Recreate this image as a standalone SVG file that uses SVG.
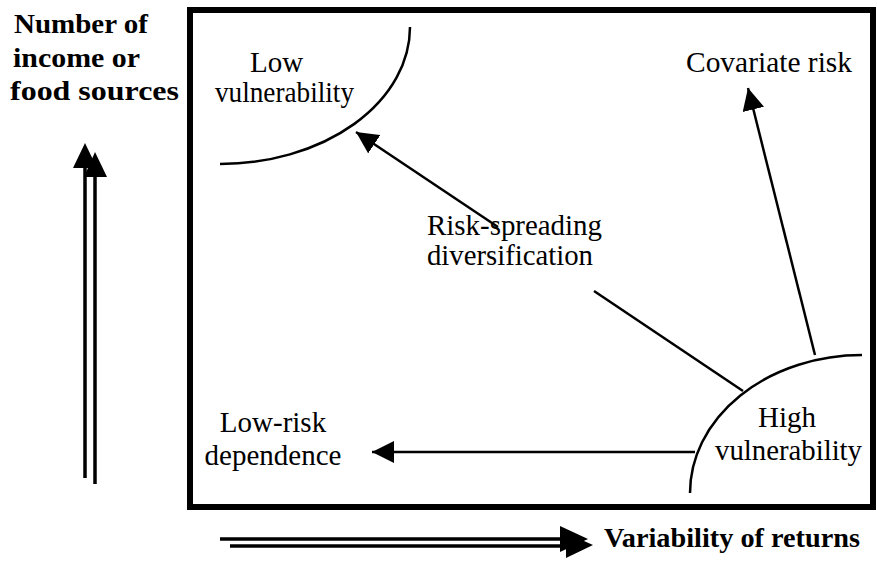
<svg xmlns="http://www.w3.org/2000/svg" width="877" height="561" viewBox="0 0 877 561">
<style>
.lbl{font-family:"Liberation Serif","Times New Roman",serif;font-size:29px;fill:#000}
.bold{font-family:"Liberation Serif","Times New Roman",serif;font-size:28px;font-weight:bold;fill:#000}
.ln{stroke:#000;stroke-width:2.5;fill:none}
.dbl{stroke:#000;stroke-width:3.5;fill:none}
</style>
<defs>
<marker id="ah" markerUnits="userSpaceOnUse" markerWidth="22" markerHeight="22" refX="22" refY="11" orient="auto" viewBox="0 0 22 22">
<path d="M0,0 L22,11 L0,22 z" fill="#000"/>
</marker>
</defs>
<rect width="877" height="561" fill="#fff"/>
<g id="frame"><rect x="190" y="10" width="683" height="497" fill="none" stroke="#000" stroke-width="6"/></g>
<g id="yaxis">
<line class="dbl" x1="85" y1="478" x2="85" y2="160"/>
<line class="dbl" x1="95" y1="484" x2="95" y2="170"/>
<polygon points="85,143 73,168 97,168" fill="#000"/>
<polygon points="95,152 84,177 107,177" fill="#000"/>
<text class="bold" x="14" y="33" textLength="134" lengthAdjust="spacingAndGlyphs">Number of</text>
<text class="bold" x="13" y="67" textLength="127" lengthAdjust="spacingAndGlyphs">income or</text>
<text class="bold" x="10" y="100" textLength="169" lengthAdjust="spacingAndGlyphs">food sources</text>
</g>
<g id="xaxis">
<line class="dbl" x1="220" y1="539" x2="570" y2="539"/>
<line class="dbl" x1="230" y1="546" x2="572" y2="546"/>
<polygon points="588,539 560,526 560,552" fill="#000"/>
<polygon points="593,545 566,533 566,558" fill="#000"/>
<text class="bold" x="604" y="547" textLength="256" lengthAdjust="spacingAndGlyphs">Variability of returns</text>
</g>
<g id="low-vulnerability">
<path class="ln" d="M410,27 A190,137 0 0 1 220,164"/>
<text class="lbl" x="250" y="72">Low</text>
<text class="lbl" x="215" y="102" textLength="139" lengthAdjust="spacingAndGlyphs">vulnerability</text>
</g>
<g id="high-vulnerability">
<path class="ln" d="M862,355 A172,138 0 0 0 690,493"/>
<text class="lbl" x="758" y="427">High</text>
<text class="lbl" x="715" y="460" textLength="147" lengthAdjust="spacingAndGlyphs">vulnerability</text>
</g>
<g id="covariate-risk">
<text class="lbl" x="686" y="72" textLength="166" lengthAdjust="spacingAndGlyphs">Covariate risk</text>
</g>
<g id="low-risk-dependence">
<text class="lbl" x="273" y="432" text-anchor="middle">Low-risk</text>
<text class="lbl" x="273" y="465" text-anchor="middle">dependence</text>
</g>
<g id="risk-spreading">
<text class="lbl" x="427" y="235" textLength="175" lengthAdjust="spacingAndGlyphs">Risk-spreading</text>
<text class="lbl" x="427" y="265" textLength="166" lengthAdjust="spacingAndGlyphs">diversification</text>
</g>
<g id="connectors">
<line class="ln" x1="743" y1="391" x2="594" y2="291"/>
<line class="ln" x1="498" y1="227" x2="356" y2="132" marker-end="url(#ah)"/>
<line class="ln" x1="815" y1="355" x2="748" y2="88" marker-end="url(#ah)"/>
<line class="ln" x1="695" y1="452" x2="372" y2="452" marker-end="url(#ah)"/>
</g>
</svg>
